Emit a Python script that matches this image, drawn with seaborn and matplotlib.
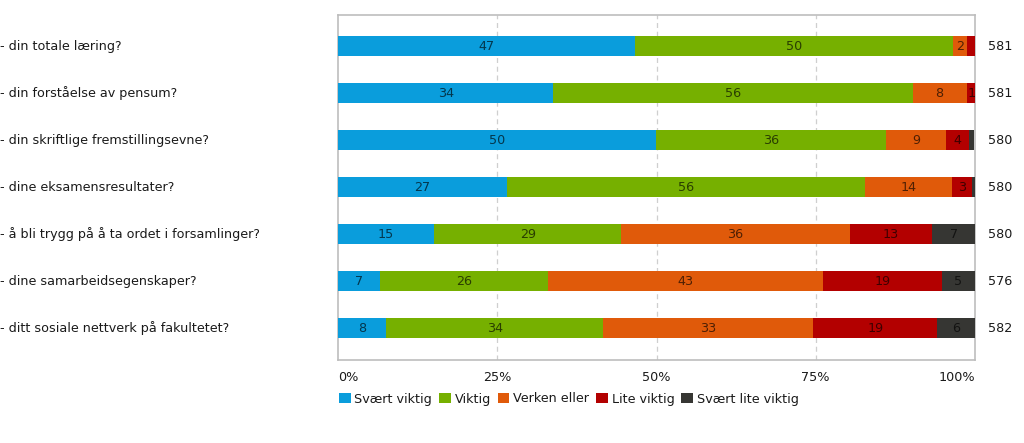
import matplotlib
matplotlib.use("Agg")
import matplotlib.pyplot as plt
import matplotlib.transforms as mtransforms
from matplotlib.patches import Patch
import seaborn as sns
import pandas as pd
import numpy as np

categories = [
    "- din totale læring?",
    "- din forståelse av pensum?",
    "- din skriftlige fremstillingsevne?",
    "- dine eksamensresultater?",
    "- å bli trygg på å ta ordet i forsamlinger?",
    "- dine samarbeidsegenskaper?",
    "- ditt sosiale nettverk på fakultetet?",
]
series_names = ["Svært viktig", "Viktig", "Verken eller", "Lite viktig", "Svært lite viktig"]

svaert_viktig = [46.6, 33.8, 49.9, 26.5, 15.1, 6.6, 7.6]
viktig = [49.9, 56.4, 36.1, 56.2, 29.4, 26.3, 34.0]
verken_eller = [2.2, 8.5, 9.4, 13.7, 35.8, 43.2, 33.0]
lite_viktig = [1.3, 1.4, 3.6, 3.1, 12.9, 18.7, 19.5]
svaert_lite = [0.0, 0.0, 0.9, 0.5, 6.9, 5.2, 5.9]

label_svaert_viktig = [47, 34, 50, 27, 15, 7, 8]
label_viktig = [50, 56, 36, 56, 29, 26, 34]
label_verken = [2, 8, 9, 14, 36, 43, 33]
label_lite = [None, 1, 4, 3, 13, 19, 19]
label_svaert_lite = [None, None, None, None, 7, 5, 6]

n_values = [581, 581, 580, 580, 580, 576, 582]
tick_labels = ["0%", "25%", "50%", "75%", "100%"]

colors = ["#0a9ddc", "#76b000", "#e05a0a", "#b30000", "#363633"]

values = [svaert_viktig, viktig, verken_eller, lite_viktig, svaert_lite]
labels = [label_svaert_viktig, label_viktig, label_verken, label_lite, label_svaert_lite]

sns.set_theme(style="white")
plt.rcParams["font.family"] = ["DejaVu Sans"]

fig = plt.figure(figsize=(10.24, 4.43), dpi=100)
ax = fig.add_axes([338 / 1024, 1 - 360 / 443, (975 - 338) / 1024, (360 - 15) / 443])

cum = np.cumsum(np.array(values), axis=0)
for i in range(len(series_names) - 1, -1, -1):
    df = pd.DataFrame({"cat": categories, "val": cum[i]})
    sns.barplot(data=df, x="val", y="cat", orient="h", color=colors[i],
                saturation=1, width=0.42, ax=ax, zorder=3, linewidth=0)

starts = np.vstack([np.zeros(len(categories)), cum[:-1]])
for i in range(len(series_names)):
    for j in range(len(categories)):
        lab = labels[i][j]
        if lab is None:
            continue
        cx = starts[i][j] + values[i][j] / 2
        ax.text(cx, j, str(lab), ha="center", va="center", fontsize=9.2,
                color="#000000", alpha=0.65, zorder=5)

ax.set_xlim(0, 100)
ax.set_ylim(6.68, -0.66)
ax.set_xlabel("")
ax.set_ylabel("")
ax.set_yticks([])
ax.set_xticks([0, 25, 50, 75, 100])
ax.set_xticklabels(tick_labels, fontsize=9.2, color="#1a1a1a")
ax.tick_params(axis="x", length=0, pad=8)
xt = ax.get_xticklabels()
xt[0].set_ha("left")
xt[-1].set_ha("right")
for g in [25, 50, 75]:
    ax.axvline(g, color="#cfcfcf", linestyle=(0, (4, 3)), linewidth=0.9, zorder=1)
for s in ax.spines.values():
    s.set_color("#bdbdbd")
    s.set_linewidth(1.2)

trans = mtransforms.blended_transform_factory(fig.transFigure, ax.transData)
for j, c in enumerate(categories):
    fig.text(0.0, j, c, transform=trans, ha="left", va="center", fontsize=9.2, color="#1a1a1a")
    fig.text(988 / 1024, j, str(n_values[j]), transform=trans, ha="left", va="center",
             fontsize=9.2, color="#1a1a1a")

handles = [Patch(facecolor=colors[i], edgecolor="none", label=series_names[i]) for i in range(5)]
fig.legend(handles=handles, loc="center left", bbox_to_anchor=(334 / 1024, 1 - 399 / 443),
           ncol=5, frameon=False, fontsize=9.2, handlelength=0.9, handleheight=0.9,
           handletextpad=0.3, columnspacing=0.55, borderaxespad=0, labelcolor="#1a1a1a")

fig.savefig("out.png", dpi=100)
